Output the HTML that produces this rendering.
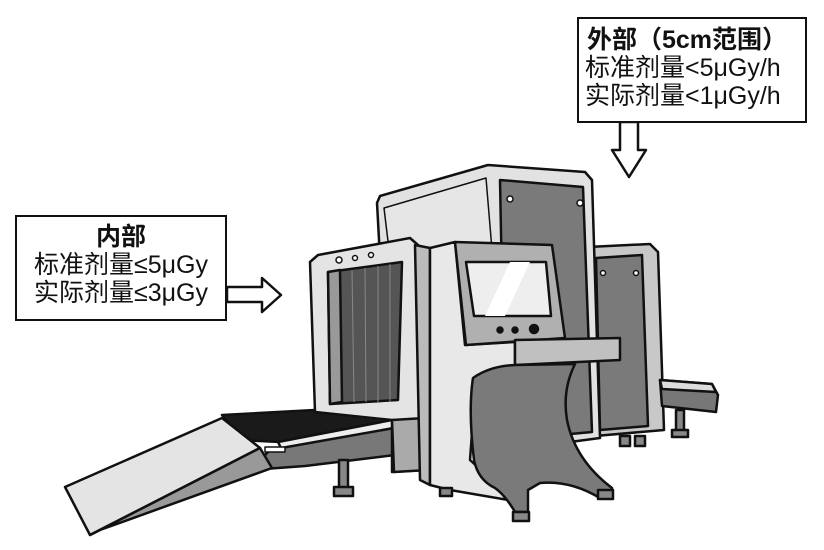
<!DOCTYPE html>
<html><head><meta charset="utf-8"><style>
html,body{margin:0;padding:0;background:#fff;}
body{width:824px;height:550px;overflow:hidden;position:relative;font-family:"Liberation Sans","Noto Sans CJK SC",sans-serif;}
.box{position:absolute;border:2px solid #111;background:#fff;color:#111;line-height:28px;font-size:25px;white-space:nowrap;}
svg{position:absolute;left:0;top:0;}
</style></head><body>
<svg width="824" height="550" viewBox="0 0 824 550" stroke="#111" stroke-width="2.5" stroke-linejoin="round">
<!-- right lower box -->
<polygon points="588,247 650,244 658,252 664,430 595,436" fill="#c8c8c8"/>
<polygon points="596,258 642,255 648,426 600,430" fill="#7a7a7a"/>
<!-- right conveyor -->
<polygon points="660,380 712,384 718,395 716,412 662,406" fill="#777"/>
<polygon points="660,380 712,384 716,392 662,389" fill="#ddd"/>
<rect x="676" y="410" width="8" height="22" fill="#888"/><rect x="672" y="430" width="16" height="7" fill="#888"/>
<!-- back tall box -->
<polygon points="377,203 380,196 488,165 585,172 592,180 600,438 570,442 390,440" fill="#e2e2e2"/>
<polygon points="384,208 486,178 492,250 390,258" fill="#e6e6e6" stroke-width="1.5"/>
<polygon points="500,180 583,187 592,432 505,440" fill="#7a7a7a"/>
<circle cx="510" cy="199" r="3" fill="#fff" stroke-width="1.5"/><circle cx="580" cy="203" r="3" fill="#fff" stroke-width="1.5"/>
<circle cx="603" cy="273" r="2.5" fill="#fff" stroke-width="1.5"/><circle cx="636" cy="273" r="2.5" fill="#fff" stroke-width="1.5"/>
<rect x="620" y="436" width="10" height="10" fill="#888"/><rect x="635" y="436" width="10" height="10" fill="#888"/>
<!-- left conveyor belt -->
<polygon points="222,415 390,406 392,420 280,442 240,440" fill="#1a1a1a"/>
<polygon points="278,442 392,420 394,428 282,450" fill="#eee"/>
<polygon points="270,450 394,428 395,455 305,466 250,470" fill="#787878"/>
<rect x="265" y="447" width="20" height="5" fill="#fff" stroke-width="1.5"/>
<rect x="339" y="460" width="9" height="28" fill="#888"/><rect x="334" y="487" width="19" height="9" fill="#888"/>
<!-- ramp -->
<polygon points="65,487 222,418 260,448 90,535" fill="#e4e4e4"/>
<polygon points="90,535 260,448 272,468 100,530" fill="#999"/>
<!-- tunnel frame -->
<polygon points="310,262 318,255 410,238 418,245 425,470 392,472 392,420 315,412" fill="#e4e4e4"/>
<polygon points="328,272 402,262 398,400 330,404" fill="#555"/>
<polygon points="328,272 340,270 342,402 330,404" fill="#999"/>
<g stroke="#888" stroke-width="1"><line x1="352" y1="270" x2="354" y2="402"/><line x1="365" y1="268" x2="366" y2="402"/><line x1="378" y1="266" x2="378" y2="402"/><line x1="390" y1="264" x2="390" y2="402"/></g>
<polygon points="392,420 425,418 428,470 394,472" fill="#aaa"/>
<circle cx="339" cy="260" r="3" fill="#fff" stroke-width="1.5"/><circle cx="355" cy="258" r="2.5" fill="#fff" stroke-width="1.5"/><circle cx="371" cy="255" r="2.5" fill="#fff" stroke-width="1.5"/>
<!-- console pillar -->
<polygon points="415,245 430,248 430,485 420,480" fill="#bbb"/>
<polygon points="430,248 455,242 465,345 515,342 515,365 476,378 470,460 505,492 520,502 450,490 430,485" fill="#e8e8e8"/>
<!-- monitor -->
<polygon points="455,242 552,245 565,338 466,345" fill="#b0b0b0"/>
<polygon points="466,262 546,262 551,316 474,316" fill="#eee"/>
<polygon points="485,316 510,262 530,262 505,316" fill="#fff" stroke="none"/>
<circle cx="500" cy="330" r="2.5" fill="#111"/><circle cx="515" cy="330" r="2.5" fill="#111"/><circle cx="534" cy="329" r="4" fill="#111"/>
<!-- desk -->
<polygon points="515,340 620,338 620,360 515,365" fill="#c0c0c0"/>
<!-- curved base -->
<path d="M473,378 Q490,366 515,365 L575,364 Q562,390 567,420 Q575,460 612,488 L612,498 L600,498 Q570,480 540,483 L528,490 L528,512 L515,512 Q505,495 495,488 Q478,480 474,460 Q468,410 473,378 Z" fill="#7a7a7a"/>
<rect x="513" y="512" width="16" height="9" fill="#888"/><rect x="598" y="490" width="15" height="9" fill="#888"/><rect x="440" y="488" width="12" height="8" fill="#888"/>
<!-- arrows -->
<polygon points="227,287 262,287 262,278 281,295 262,312 262,302 227,302" fill="#fff"/>
<polygon points="620,122 638,122 638,150 646,150 629,177 612,150 620,150" fill="#fff"/>
</svg>
<div class="box" style="left:15px;top:215px;width:208px;height:102px;text-align:center;">
<div style="font-weight:bold;margin-top:6px">内部</div>
<div>标准剂量≤5μGy</div>
<div>实际剂量≤3μGy</div>
</div>
<div class="box" style="left:577px;top:17px;width:226px;height:102px;">
<div style="font-weight:bold;margin-top:7px;padding-left:8px">外部（5cm范围）</div>
<div style="padding-left:6px">标准剂量&lt;5μGy/h</div>
<div style="padding-left:6px">实际剂量&lt;1μGy/h</div>
</div>
</body></html>
